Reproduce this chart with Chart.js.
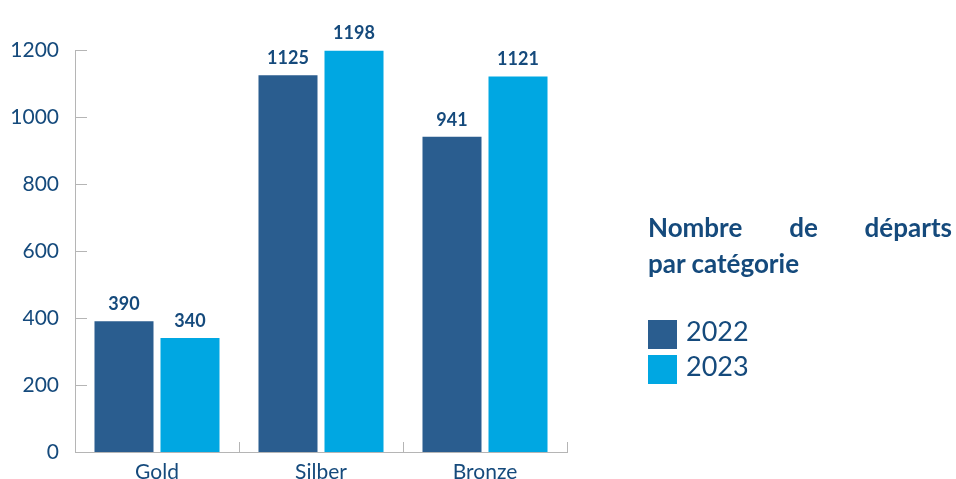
<!DOCTYPE html>
<html>
<head>
<meta charset="utf-8">
<script src="https://cdn.jsdelivr.net/npm/chart.js@4"></script>
<style>
	html, body { margin: 0; padding: 0; background: #fff; }
	#wrap { position: relative; width: 956px; height: 479px; }
	canvas { display: block; }
	.title {
		position: absolute; left: 648px; width: 304px;
		font-family: Lato, sans-serif; font-weight: 700; font-size: 26px;
		line-height: 36px; color: #154a7c;
	}
	.leg { position: absolute; left: 648px; font-family: Lato, sans-serif; font-size: 27px; color: #154a7c; }
	.leg span { display: inline-block; width: 29px; height: 29px; vertical-align: middle; margin-right: 9px; }
</style>
</head>
<body>
<div id="wrap">
	<canvas id="chart" width="956" height="479"></canvas>
	<div class="title" style="top:209px; text-align:justify; text-align-last:justify">Nombre de départs</div>
	<div class="title" style="top:245px">par catégorie</div>
	<div class="leg" style="top:314px"><span style="background:#2a5d8f"></span>2022</div>
	<div class="leg" style="top:349px"><span style="background:#00a7e2"></span>2023</div>
</div>
<script>
const categories = ['Gold', 'Silber', 'Bronze'];
const values2022 = [390, 1125, 941];
const values2023 = [340, 1198, 1121];
const seriesLabels = ['2022', '2023'];

const textColor = '#154a7c';
const axisColor = '#b5b5b5';

// tick marks drawn inside the plot, plus value labels over the bars
const extras = {
	id: 'extras',
	afterDraw(chart) {
		const c = chart.ctx;
		const x = chart.scales.x, y = chart.scales.y;
		const area = chart.chartArea;
		c.save();
		c.strokeStyle = axisColor;
		c.lineWidth = 1;
		y.ticks.forEach((t) => {
			const py = Math.round(y.getPixelForValue(t.value)) + 0.5;
			c.beginPath();
			c.moveTo(area.left, py);
			c.lineTo(area.left + 12, py);
			c.stroke();
		});
		for (let i = 1; i <= categories.length; i++) {
			const px = Math.round(x.getPixelForValue(i - 0.5)) + 0.5;
			c.beginPath();
			c.moveTo(px, area.bottom);
			c.lineTo(px, area.bottom - 10);
			c.stroke();
		}
		c.fillStyle = textColor;
		c.font = 'bold 18px Lato, sans-serif';
		c.textAlign = 'center';
		c.textBaseline = 'bottom';
		chart.data.datasets.forEach((ds, di) => {
			chart.getDatasetMeta(di).data.forEach((bar, i) => {
				c.fillText(ds.data[i], bar.x, bar.y - 8);
			});
		});
		c.restore();
	},
};

new Chart(document.getElementById('chart'), {
	type: 'bar',
	data: {
		labels: categories,
		datasets: [
			{ label: seriesLabels[0], data: values2022, backgroundColor: '#2a5d8f' },
			{ label: seriesLabels[1], data: values2023, backgroundColor: '#00a7e2' },
		],
	},
	options: {
		responsive: false,
		animation: false,
		layout: { padding: { top: 50, right: 389, left: 0, bottom: 0 } },
		categoryPercentage: 0.805,
		barPercentage: 0.894,
		plugins: { legend: { display: false }, tooltip: { enabled: false } },
		scales: {
			x: {
				grid: { display: false },
				border: { color: axisColor },
				ticks: { color: textColor, font: { family: 'Lato, sans-serif', size: 21 }, padding: 0 },
				afterFit(s) { s.height = 27; },
			},
			y: {
				min: 0,
				max: 1200,
				grid: { display: false },
				border: { color: axisColor },
				ticks: {
					stepSize: 200, color: textColor, padding: 8,
					font: { family: 'Lato, sans-serif', size: 21 },
					callback: (v) => String(v),
				},
				afterFit(s) { s.width = 75; },
			},
		},
	},
	plugins: [extras],
});
</script>
</body>
</html>
